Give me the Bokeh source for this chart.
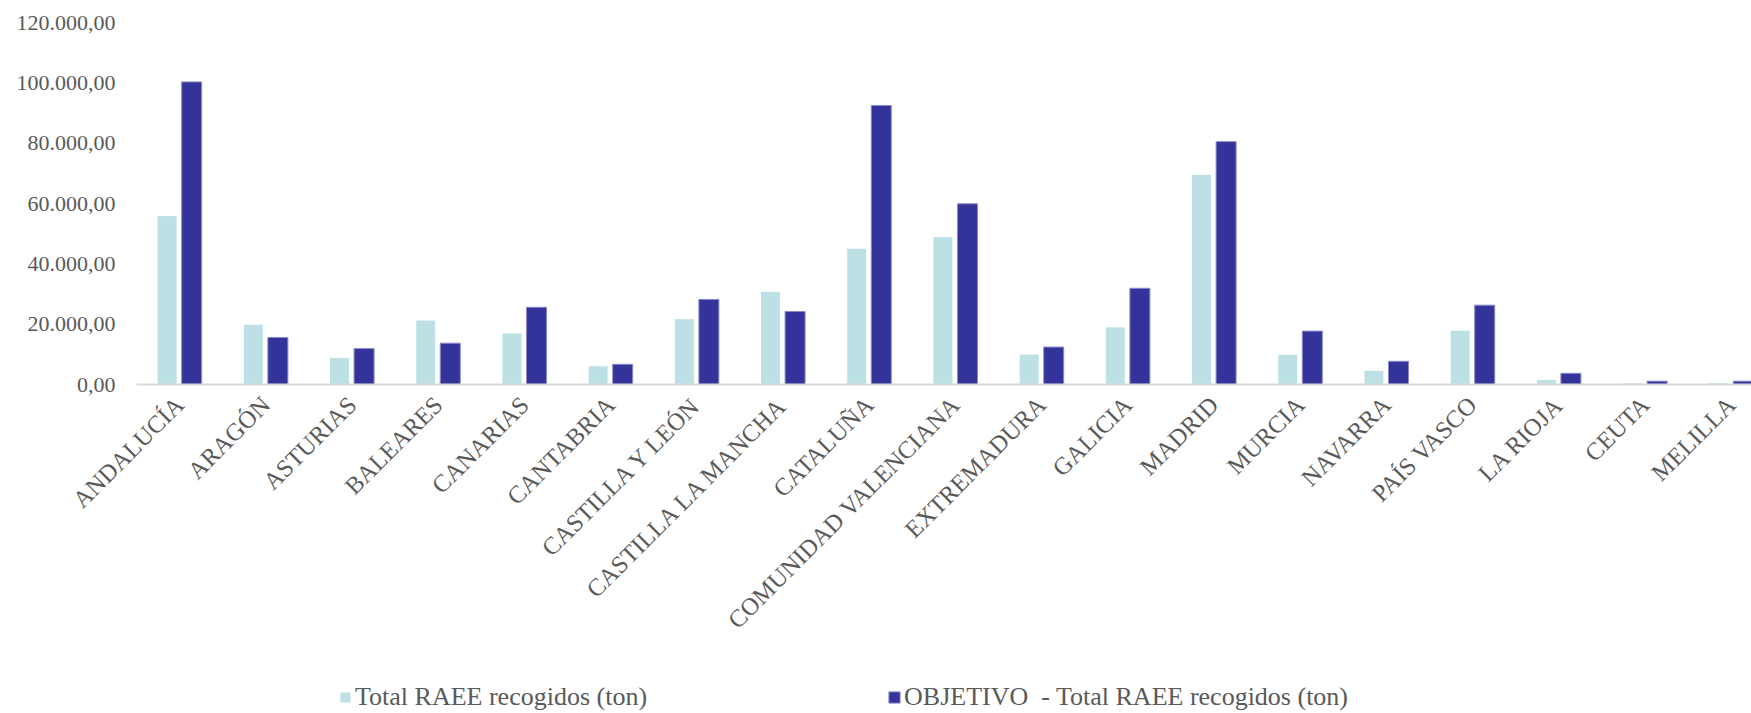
from bokeh.plotting import figure
from bokeh.models import Range1d, FixedTicker, Legend, LegendItem, ColumnDataSource
from bokeh.layouts import column
from bokeh.transform import dodge
from bokeh.embed import file_html
from bokeh.resources import INLINE
import math

regions = ["ANDALUCÍA", "ARAGÓN", "ASTURIAS", "BALEARES", "CANARIAS", "CANTABRIA",
           "CASTILLA Y LEÓN", "CASTILLA LA MANCHA", "CATALUÑA", "COMUNIDAD VALENCIANA",
           "EXTREMADURA", "GALICIA", "MADRID", "MURCIA", "NAVARRA", "PAÍS VASCO",
           "LA RIOJA", "CEUTA", "MELILLA"]
total_raee = [56000, 20000, 9000, 21400, 17100, 6200, 21800, 30900, 45200, 49000,
              10100, 19100, 69700, 10000, 4700, 18000, 1700, 600, 600]
objetivo = [100300, 15600, 11900, 13700, 25600, 6700, 28200, 24200, 92500, 59900,
            12400, 31900, 80500, 17700, 7700, 26300, 3700, 1100, 1100]
y_ticks = [0, 20000, 40000, 60000, 80000, 100000, 120000]
y_tick_labels = ["0,00", "20.000,00", "40.000,00", "60.000,00", "80.000,00",
                 "100.000,00", "120.000,00"]
series_names = ["Total RAEE recogidos (ton)", "OBJETIVO  - Total RAEE recogidos (ton)"]

FONT = "Liberation Serif"
GREY = "#595959"
LIGHT = "#BCE0E4"
DARK = "#343399"
DARK_EDGE = "#8a8ac8"

idx = list(range(len(regions)))
src = ColumnDataSource(dict(x=idx, total=total_raee, obj=objetivo, name=regions))

p = figure(width=1751, height=653, output_backend="svg", toolbar_location=None,
           x_range=Range1d(-0.5, 18.235), y_range=Range1d(0, 120000),
           min_border_left=136, min_border_right=0, min_border_top=22,
           min_border_bottom=269)
p.outline_line_color = None
p.grid.grid_line_color = None

r1 = p.vbar(x=dodge("x", -0.145, range=p.x_range), top="total", width=0.232, source=src,
            fill_color=LIGHT, line_color="white", line_width=1)
r2 = p.vbar(x=dodge("x", 0.14, range=p.x_range), top="obj", width=0.232, source=src,
            fill_color=DARK, line_color=DARK_EDGE, line_width=1)

xa = p.xaxis[0]
xa.ticker = FixedTicker(ticks=idx)
xa.major_label_overrides = {i: n for i, n in zip(idx, regions)}
xa.major_label_orientation = math.pi / 4
xa.major_label_text_font = FONT
xa.major_label_text_font_size = "24.5px"
xa.major_label_text_color = GREY
xa.major_tick_line_color = None
xa.major_tick_out = 0
xa.major_tick_in = 0
xa.minor_tick_line_color = None
xa.axis_line_color = "#D9D9D9"
xa.axis_line_width = 2
xa.major_label_standoff = 16

ya = p.yaxis[0]
ya.ticker = FixedTicker(ticks=y_ticks)
ya.major_label_overrides = {t: l for t, l in zip(y_ticks, y_tick_labels)}
ya.major_label_text_font = FONT
ya.major_label_text_font_size = "22px"
ya.major_label_text_color = GREY
ya.major_tick_line_color = None
ya.major_tick_out = 0
ya.major_tick_in = 0
ya.minor_tick_line_color = None
ya.axis_line_color = None
ya.major_label_standoff = 21

# legend strip below the chart
pl = figure(width=1751, height=60, output_backend="svg", toolbar_location=None,
            x_axis_type=None, y_axis_type=None, x_range=Range1d(0, 1), y_range=Range1d(0, 1),
            min_border_left=0, min_border_right=0, min_border_top=0, min_border_bottom=0)
pl.outline_line_color = None
pl.grid.grid_line_color = None
# swatch renderers (their single point lies outside the visible range)
l1 = pl.vbar(x=[5], top=[1], width=0.1, fill_color=LIGHT, line_color="white", line_width=1)
l2 = pl.vbar(x=[5], top=[1], width=0.1, fill_color=DARK, line_color=DARK_EDGE, line_width=1)

legend = Legend(items=[LegendItem(label=series_names[0], renderers=[l1]),
                       LegendItem(label=series_names[1], renderers=[l2])],
                orientation="horizontal", location=(202, 1),
                label_text_font=FONT, label_text_font_size="26px",
                label_text_color=GREY, glyph_width=14, glyph_height=14,
                label_standoff=3, spacing=240, padding=0, margin=0,
                border_line_color=None, background_fill_alpha=0,
                label_height=20)
pl.add_layout(legend, "center")

layout = column(p, pl, spacing=0)
open("out.html", "w").write(file_html(layout, INLINE))
